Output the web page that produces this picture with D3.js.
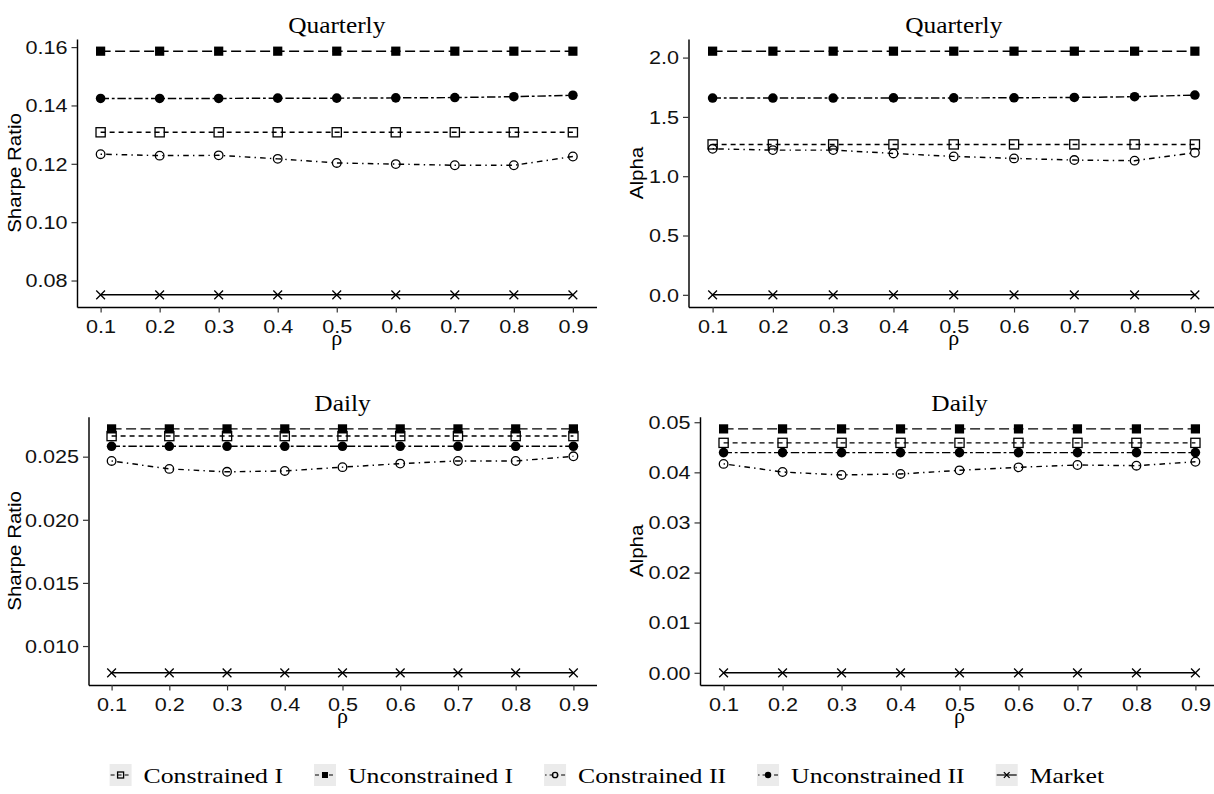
<!DOCTYPE html>
<html>
<head>
<meta charset="utf-8">
<script src="https://cdn.jsdelivr.net/npm/d3@7"></script>
<style>
  html, body { margin: 0; padding: 0; background: #fff; }
  svg { display: block; }
</style>
</head>
<body>
<script>
// ---------------- DATA ----------------
const rho = [0.1, 0.2, 0.3, 0.4, 0.5, 0.6, 0.7, 0.8, 0.9];
const seriesNames = ["Constrained I", "Unconstrained I", "Constrained II", "Unconstrained II", "Market"];

// Quarterly – Sharpe Ratio
const qSharpeConI   = [0.1308, 0.1308, 0.1308, 0.1308, 0.1308, 0.1308, 0.1308, 0.1308, 0.1308];
const qSharpeUncI   = [0.1586, 0.1586, 0.1586, 0.1586, 0.1586, 0.1586, 0.1586, 0.1586, 0.1586];
const qSharpeConII  = [0.1233, 0.1228, 0.1229, 0.1217, 0.1203, 0.1199, 0.1195, 0.1195, 0.1225];
const qSharpeUncII  = [0.1424, 0.1424, 0.1424, 0.1425, 0.1425, 0.1426, 0.1427, 0.1430, 0.1435];
const qSharpeMarket = [0.0751, 0.0751, 0.0751, 0.0751, 0.0751, 0.0751, 0.0751, 0.0751, 0.0751];

// Quarterly – Alpha
const qAlphaConI   = [1.268, 1.268, 1.268, 1.268, 1.268, 1.268, 1.268, 1.268, 1.268];
const qAlphaUncI   = [2.054, 2.054, 2.054, 2.054, 2.054, 2.054, 2.054, 2.054, 2.054];
const qAlphaConII  = [1.231, 1.220, 1.220, 1.192, 1.167, 1.150, 1.136, 1.131, 1.198];
const qAlphaUncII  = [1.659, 1.659, 1.659, 1.660, 1.660, 1.661, 1.664, 1.670, 1.684];
const qAlphaMarket = [0, 0, 0, 0, 0, 0, 0, 0, 0];

// Daily – Sharpe Ratio
const dSharpeConI   = [0.02663, 0.02663, 0.02663, 0.02663, 0.02663, 0.02663, 0.02663, 0.02663, 0.02663];
const dSharpeUncI   = [0.02720, 0.02720, 0.02720, 0.02720, 0.02720, 0.02720, 0.02720, 0.02720, 0.02720];
const dSharpeConII  = [0.02466, 0.02403, 0.02380, 0.02387, 0.02417, 0.02445, 0.02466, 0.02466, 0.02503];
const dSharpeUncII  = [0.02582, 0.02582, 0.02582, 0.02582, 0.02582, 0.02582, 0.02582, 0.02582, 0.02582];
const dSharpeMarket = [0.00788, 0.00788, 0.00788, 0.00788, 0.00788, 0.00788, 0.00788, 0.00788, 0.00788];

// Daily – Alpha
const dAlphaConI   = [0.04588, 0.04588, 0.04588, 0.04588, 0.04588, 0.04588, 0.04588, 0.04588, 0.04588];
const dAlphaUncI   = [0.04867, 0.04867, 0.04867, 0.04867, 0.04867, 0.04867, 0.04867, 0.04867, 0.04867];
const dAlphaConII  = [0.04169, 0.04007, 0.03948, 0.03968, 0.04040, 0.04100, 0.04147, 0.04133, 0.04211];
const dAlphaUncII  = [0.04394, 0.04394, 0.04394, 0.04394, 0.04394, 0.04394, 0.04394, 0.04394, 0.04394];
const dAlphaMarket = [0, 0, 0, 0, 0, 0, 0, 0, 0];

// Tick values
const qSharpeTicks = [0.08, 0.10, 0.12, 0.14, 0.16];
const qAlphaTicks  = [0.0, 0.5, 1.0, 1.5, 2.0];
const dSharpeTicks = [0.010, 0.015, 0.020, 0.025];
const dAlphaTicks  = [0.00, 0.01, 0.02, 0.03, 0.04, 0.05];

// ---------------- STYLE / LAYOUT ----------------
const W = 1214, H = 794;
const SANS = "'Liberation Sans', Arial, Helvetica, sans-serif";
const SERIF = "'Liberation Serif', 'Times New Roman', serif";
const LW = 1.45;
const dashes = ["5,4", "10,4.5", "1.4,4.2,5.6,4.2", "8.4,2.8,2.8,2.8", null];
const shapes = ["sqOpen", "sqFill", "circOpen", "circFill", "cross"];

const panels = [
  { title: "Quarterly", ylab: "Sharpe Ratio", series: [qSharpeConI, qSharpeUncI, qSharpeConII, qSharpeUncII, qSharpeMarket],
    ticks: qSharpeTicks, fmt: ".2f", l: 77, r: 596.5, t: 39, b: 307, ylabX: 21 },
  { title: "Quarterly", ylab: "Alpha", series: [qAlphaConI, qAlphaUncI, qAlphaConII, qAlphaUncII, qAlphaMarket],
    ticks: qAlphaTicks, fmt: ".1f", l: 688.5, r: 1219, t: 39, b: 307, ylabX: 643 },
  { title: "Daily", ylab: "Sharpe Ratio", series: [dSharpeConI, dSharpeUncI, dSharpeConII, dSharpeUncII, dSharpeMarket],
    ticks: dSharpeTicks, fmt: ".3f", l: 88.5, r: 596.5, t: 416.7, b: 685, ylabX: 21 },
  { title: "Daily", ylab: "Alpha", series: [dAlphaConI, dAlphaUncI, dAlphaConII, dAlphaUncII, dAlphaMarket],
    ticks: dAlphaTicks, fmt: ".2f", l: 700, r: 1219, t: 416.7, b: 685, ylabX: 643 }
];

const svg = d3.select("body").append("svg")
  .attr("width", W).attr("height", H)
  .attr("viewBox", `0 0 ${W} ${H}`);
svg.append("rect").attr("width", W).attr("height", H).attr("fill", "#fff");

// stretched text helper
function stext(g, x, y, str, o) {
  const rot = o.rotate || 0;
  const sx = o.sx || 1;
  return g.append("text")
    .attr("transform", `translate(${x},${y}) rotate(${rot}) scale(${sx},1)`)
    .attr("text-anchor", o.anchor || "middle")
    .attr("font-family", o.family)
    .attr("font-size", o.size)
    .attr("fill", o.fill || "#000")
    .text(str);
}

function expand(ext) {
  const d = ext[1] - ext[0];
  return [ext[0] - 0.05 * d, ext[1] + 0.05 * d];
}

function drawMarker(g, shape, cx, cy, s) {
  const h = s / 2;
  if (shape === "sqOpen") {
    g.append("rect").attr("x", cx - h).attr("y", cy - h).attr("width", s).attr("height", s)
      .attr("fill", "none").attr("stroke", "#000").attr("stroke-width", 1.3);
  } else if (shape === "sqFill") {
    g.append("rect").attr("x", cx - h).attr("y", cy - h).attr("width", s).attr("height", s)
      .attr("fill", "#000");
  } else if (shape === "circOpen") {
    g.append("circle").attr("cx", cx).attr("cy", cy).attr("r", h - 0.3)
      .attr("fill", "none").attr("stroke", "#000").attr("stroke-width", 1.3);
  } else if (shape === "circFill") {
    g.append("circle").attr("cx", cx).attr("cy", cy).attr("r", h + 0.2).attr("fill", "#000");
  } else {
    const k = h * 0.95;
    g.append("path").attr("d", `M${cx - k},${cy - k}L${cx + k},${cy + k}M${cx - k},${cy + k}L${cx + k},${cy - k}`)
      .attr("stroke", "#000").attr("stroke-width", 1.3).attr("fill", "none");
  }
}

panels.forEach(p => {
  const g = svg.append("g");
  const x = d3.scaleLinear().domain(expand(d3.extent(rho))).range([p.l, p.r]);
  const y = d3.scaleLinear().domain(expand(d3.extent(p.series.flat()))).range([p.b, p.t]);

  // axes
  const xa = g.append("g").attr("transform", `translate(0,${p.b})`)
    .call(d3.axisBottom(x).tickValues(rho).tickFormat(d3.format(".1f")).tickSize(5.5).tickSizeOuter(0));
  const ya = g.append("g").attr("transform", `translate(${p.l},0)`)
    .call(d3.axisLeft(y).tickValues(p.ticks).tickFormat(d3.format(p.fmt)).tickSize(5.5).tickSizeOuter(0));
  [xa, ya].forEach(a => {
    a.select(".domain").attr("stroke", "#000").attr("stroke-width", LW);
    a.selectAll(".tick line").attr("stroke", "#333").attr("stroke-width", 1.2);
    a.selectAll(".tick text").remove();
  });
  xa.selectAll(".tick").each(function(d) {
    stext(d3.select(this), 0, 25.5, d3.format(".1f")(d), { family: SANS, size: 18, sx: 1.2, fill: "#111" });
  });
  ya.selectAll(".tick").each(function(d) {
    stext(d3.select(this), -9.5, 6.3, d3.format(p.fmt)(d), { family: SANS, size: 18, sx: 1.2, anchor: "end", fill: "#111" });
  });

  // titles
  const cx = (p.l + p.r) / 2;
  stext(g, cx, p.t - 6, p.title, { family: SERIF, size: 23.5, sx: 1.08 });
  stext(g, cx, p.b + 38, "ρ", { family: SERIF, size: 20, sx: 1.1 });
  stext(g, p.ylabX, (p.t + p.b) / 2, p.ylab, { family: SANS, size: 18, sx: 1.14, rotate: -90 });

  // lines + points
  p.series.forEach((vals, i) => {
    const line = d3.line().x((d, j) => x(rho[j])).y(d => y(d));
    g.append("path").datum(vals).attr("d", line)
      .attr("fill", "none").attr("stroke", "#000").attr("stroke-width", LW)
      .attr("stroke-dasharray", dashes[i]);
  });
  p.series.forEach((vals, i) => {
    vals.forEach((v, j) => drawMarker(g, shapes[i], x(rho[j]), y(v), 9.2));
  });
});

// ---------------- LEGEND ----------------
const legY = 775;
const lg = svg.append("g");
const keyW = 22, keyGap = 12, itemGap = 31;
let cursor = 0;
const items = [];
seriesNames.forEach((name, i) => {
  const t = stext(lg, 0, 0, name, { family: SERIF, size: 22, sx: 1.17, anchor: "start" });
  const w = t.node().getBBox().width * 1.17;
  t.remove();
  items.push({ name, i, w, x: cursor });
  cursor += keyW + keyGap + w + itemGap;
});
const total = cursor - itemGap;
const startX = (W - total) / 2;
items.forEach(it => {
  const kx = startX + it.x;
  lg.append("rect").attr("x", kx).attr("y", legY - keyW / 2).attr("width", keyW).attr("height", keyW)
    .attr("fill", "#ebebeb");
  lg.append("line").attr("x1", kx + 1).attr("x2", kx + keyW - 1).attr("y1", legY).attr("y2", legY)
    .attr("stroke", "#000").attr("stroke-width", 1.2)
    .attr("stroke-dasharray", it.i === 4 ? null : (it.i === 0 || it.i === 1 ? "4,3" : "1.5,3,4,3"));
  drawMarker(lg, shapes[it.i], kx + keyW / 2, legY, 6);
  stext(lg, kx + keyW + keyGap, legY + 7.5, it.name, { family: SERIF, size: 22, sx: 1.17, anchor: "start" });
});
</script>
</body>
</html>
